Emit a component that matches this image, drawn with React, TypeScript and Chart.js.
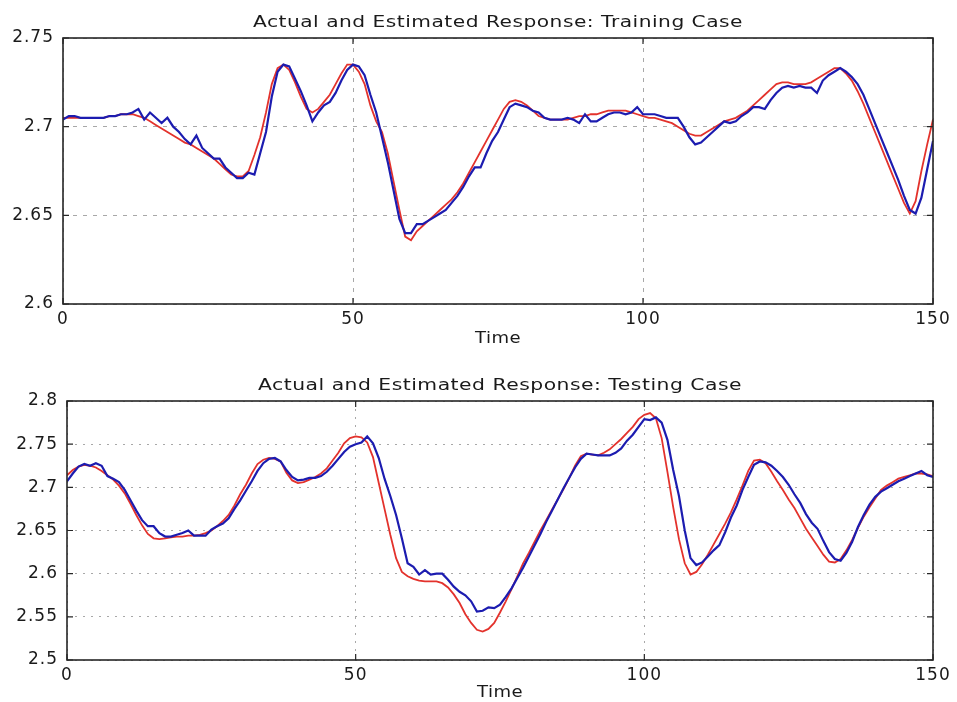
import React, { useEffect, useRef } from "react";
import { Chart, registerables } from "chart.js";

Chart.register(...registerables);

// Time samples 0..150
const time: number[] = Array.from({ length: 151 }, (_, i) => i);

// Training case
const trainActual: number[] = [
  2.704, 2.706, 2.706, 2.705, 2.705, 2.705, 2.705, 2.705, 2.706, 2.706,
  2.707, 2.707, 2.708, 2.710, 2.704, 2.708, 2.705, 2.702, 2.705, 2.700,
  2.697, 2.693, 2.690, 2.695, 2.688, 2.685, 2.682, 2.682, 2.677, 2.674,
  2.671, 2.671, 2.674, 2.673, 2.685, 2.697, 2.717, 2.731, 2.735, 2.734,
  2.727, 2.720, 2.712, 2.703, 2.708, 2.712, 2.714, 2.719, 2.726, 2.732,
  2.735, 2.734, 2.729, 2.718, 2.708, 2.694, 2.680, 2.664, 2.648, 2.640,
  2.640, 2.645, 2.645, 2.647, 2.649, 2.651, 2.653, 2.657, 2.661, 2.666,
  2.672, 2.677, 2.677, 2.685, 2.692, 2.697, 2.704, 2.711, 2.713, 2.712,
  2.711, 2.709, 2.708, 2.705, 2.704, 2.704, 2.704, 2.705, 2.704, 2.702,
  2.707, 2.703, 2.703, 2.705, 2.707, 2.708, 2.708, 2.707, 2.708, 2.711,
  2.707, 2.707, 2.707, 2.706, 2.705, 2.705, 2.705, 2.700, 2.694, 2.690,
  2.691, 2.694, 2.697, 2.700, 2.703, 2.702, 2.703, 2.706, 2.708, 2.711,
  2.711, 2.710, 2.715, 2.719, 2.722, 2.723, 2.722, 2.723, 2.722, 2.722,
  2.719, 2.726, 2.729, 2.731, 2.733, 2.731, 2.728, 2.724, 2.718, 2.710,
  2.702, 2.694, 2.686, 2.678, 2.670, 2.661, 2.653, 2.651, 2.660, 2.676,
  2.692,
];
const trainEstimated: number[] = [
  2.705, 2.705, 2.705, 2.705, 2.705, 2.705, 2.705, 2.705, 2.706, 2.706,
  2.707, 2.707, 2.707, 2.706, 2.705, 2.703, 2.701, 2.699, 2.697, 2.695,
  2.693, 2.691, 2.690, 2.688, 2.686, 2.684, 2.682, 2.679, 2.676, 2.673,
  2.672, 2.672, 2.675, 2.684, 2.694, 2.708, 2.724, 2.733, 2.735, 2.732,
  2.725, 2.717, 2.710, 2.708, 2.710, 2.714, 2.718, 2.724, 2.730, 2.735,
  2.735, 2.731, 2.724, 2.712, 2.703, 2.697, 2.685, 2.669, 2.653, 2.638,
  2.636, 2.641, 2.644, 2.647, 2.650, 2.653, 2.656, 2.659, 2.663, 2.668,
  2.674, 2.680, 2.686, 2.692, 2.698, 2.704, 2.710, 2.714, 2.715, 2.714,
  2.712, 2.709, 2.706, 2.705, 2.704, 2.704, 2.704, 2.704, 2.705, 2.706,
  2.706, 2.707, 2.707, 2.708, 2.709, 2.709, 2.709, 2.709, 2.708, 2.707,
  2.706, 2.705, 2.705, 2.704, 2.703, 2.702, 2.700, 2.698, 2.696, 2.695,
  2.695, 2.697, 2.699, 2.701, 2.703, 2.704, 2.705, 2.707, 2.709, 2.712,
  2.715, 2.718, 2.721, 2.724, 2.725, 2.725, 2.724, 2.724, 2.724, 2.725,
  2.727, 2.729, 2.731, 2.733, 2.733, 2.730, 2.726, 2.720, 2.713, 2.705,
  2.697, 2.689, 2.681, 2.673, 2.665, 2.657, 2.651, 2.658, 2.675, 2.690,
  2.704,
];

// Testing case
const testActual: number[] = [
  2.707, 2.716, 2.724, 2.727, 2.725, 2.728, 2.725, 2.713, 2.710, 2.706,
  2.697, 2.685, 2.673, 2.662, 2.655, 2.655, 2.647, 2.643, 2.643, 2.645,
  2.647, 2.650, 2.644, 2.644, 2.644, 2.651, 2.655, 2.658, 2.664, 2.675,
  2.685, 2.696, 2.707, 2.719, 2.728, 2.733, 2.734, 2.730, 2.720, 2.712,
  2.708, 2.709, 2.711, 2.711, 2.713, 2.718, 2.725, 2.733, 2.741, 2.747,
  2.750, 2.752, 2.759, 2.751, 2.734, 2.710, 2.690, 2.668, 2.641, 2.612,
  2.608, 2.599, 2.604, 2.599, 2.600, 2.600, 2.593, 2.585, 2.579, 2.575,
  2.568, 2.556, 2.557, 2.561, 2.560, 2.564, 2.573, 2.583, 2.595, 2.607,
  2.620, 2.633, 2.646, 2.660, 2.673, 2.686, 2.699, 2.711, 2.723, 2.733,
  2.739, 2.738, 2.737, 2.737, 2.737, 2.740, 2.745, 2.754, 2.761, 2.770,
  2.779, 2.778, 2.781, 2.775, 2.755, 2.720, 2.690, 2.650, 2.618, 2.610,
  2.613, 2.620, 2.627, 2.633, 2.648, 2.665, 2.679, 2.697, 2.712, 2.726,
  2.730, 2.729, 2.725, 2.719, 2.712, 2.703, 2.692, 2.682, 2.669, 2.659,
  2.652, 2.638, 2.625, 2.617, 2.615, 2.624, 2.637, 2.654, 2.668, 2.680,
  2.689, 2.695, 2.699, 2.703, 2.707, 2.710, 2.713, 2.716, 2.719, 2.714,
  2.712,
];
const testEstimated: number[] = [
  2.714, 2.720, 2.724, 2.726, 2.725, 2.723, 2.719, 2.714, 2.709, 2.702,
  2.693, 2.681, 2.668, 2.656, 2.646, 2.641, 2.640, 2.641, 2.642, 2.643,
  2.643, 2.644, 2.644, 2.645, 2.647, 2.650, 2.655, 2.661, 2.668, 2.679,
  2.692, 2.703, 2.716, 2.727, 2.732, 2.734, 2.733, 2.730, 2.717, 2.708,
  2.705, 2.706, 2.709, 2.712, 2.716, 2.722, 2.731, 2.740, 2.751, 2.757,
  2.759, 2.758, 2.752, 2.735, 2.705, 2.675, 2.645, 2.618, 2.602, 2.597,
  2.594, 2.592, 2.591, 2.591, 2.591, 2.589, 2.584, 2.576, 2.566, 2.553,
  2.543, 2.535, 2.533, 2.536, 2.543, 2.555, 2.568, 2.582, 2.597, 2.612,
  2.624, 2.637, 2.650, 2.662, 2.674, 2.686, 2.698, 2.711, 2.725, 2.736,
  2.739, 2.738, 2.737, 2.740, 2.744, 2.750, 2.756, 2.763, 2.770, 2.779,
  2.784, 2.786, 2.780, 2.757, 2.718, 2.677, 2.640, 2.612, 2.599, 2.602,
  2.611, 2.622, 2.634, 2.646, 2.658, 2.671, 2.686, 2.702, 2.719, 2.731,
  2.732, 2.728, 2.718, 2.707, 2.697, 2.686, 2.676, 2.664, 2.652, 2.642,
  2.632, 2.622, 2.614, 2.613, 2.617, 2.627, 2.639, 2.653, 2.666, 2.677,
  2.687, 2.697, 2.702, 2.706, 2.710, 2.712, 2.714, 2.716, 2.716, 2.715,
  2.713,
];

const xTicks = [0, 50, 100, 150];
const trainYTicks = [2.6, 2.65, 2.7, 2.75];
const testYTicks = [2.5, 2.55, 2.6, 2.65, 2.7, 2.75, 2.8];

const BLUE = "#1c1cb0";
const RED = "#e3322c";
const TEXT = "#1a1a1a";

type Spec = {
  title: string;
  titleBaseline: number;
  titleWidth: number;
  labelBaseline: number;
  actual: number[];
  estimated: number[];
  yTicks: number[];
  height: number;
  padTop: number;
  yWidth: number;
  xHeight: number;
  dash: number[];
};

// Draws centred text stretched horizontally to a target width (the reference text is wide)
function drawStretched(ctx: CanvasRenderingContext2D, text: string, cx: number, y: number, target: number) {
  (ctx as any).letterSpacing = "0.4px";
  const w0 = ctx.measureText(text).width;
  const k = target / w0;
  ctx.save();
  ctx.translate(cx, y);
  ctx.scale(k, 1);
  ctx.textAlign = "center";
  ctx.fillText(text, 0, 0);
  ctx.restore();
  (ctx as any).letterSpacing = "0px";
}

function makeFramePlugin(spec: Spec) {
  return {
    id: "frame",
    beforeDraw(chart: any) {
      const ctx = chart.ctx;
      ctx.save();
      ctx.fillStyle = "#ffffff";
      ctx.fillRect(0, 0, chart.width, chart.height);
      ctx.restore();
      (ctx as any).letterSpacing = "1px";
    },
    afterDraw(chart: any) {
      const { ctx, chartArea: a, scales } = chart;
      ctx.save();
      ctx.strokeStyle = "#262626";
      ctx.lineWidth = 1.6;
      ctx.strokeRect(a.left, a.top, a.right - a.left, a.bottom - a.top);
      ctx.lineWidth = 1.2;
      ctx.beginPath();
      for (const t of scales.x.ticks) {
        const px = scales.x.getPixelForValue(t.value);
        ctx.moveTo(px, a.bottom);
        ctx.lineTo(px, a.bottom - 6);
        ctx.moveTo(px, a.top);
        ctx.lineTo(px, a.top + 6);
      }
      for (const t of scales.y.ticks) {
        const py = scales.y.getPixelForValue(t.value);
        ctx.moveTo(a.left, py);
        ctx.lineTo(a.left + 6, py);
        ctx.moveTo(a.right, py);
        ctx.lineTo(a.right - 6, py);
      }
      ctx.stroke();
      ctx.fillStyle = TEXT;
      ctx.textBaseline = "alphabetic";
      const cx = (a.left + a.right) / 2;
      ctx.font = '16px "DejaVu Sans"';
      drawStretched(ctx, spec.title, cx, spec.titleBaseline, spec.titleWidth);
      ctx.font = '16px "DejaVu Sans"';
      drawStretched(ctx, "Time", cx, spec.labelBaseline, 46);
      ctx.restore();
    },
  };
}

function ResponseChart({ spec, top }: { spec: Spec; top: number }) {
  const ref = useRef<HTMLCanvasElement | null>(null);
  useEffect(() => {
    if (!ref.current) return;
    const chart = new Chart(ref.current, {
      type: "line",
      data: {
        datasets: [
          {
            label: "Actual",
            data: time.map((t, i) => ({ x: t, y: spec.actual[i] })),
            borderColor: BLUE,
            borderWidth: 2.2,
            pointRadius: 0,
            tension: 0,
            order: 0,
          },
          {
            label: "Estimated",
            data: time.map((t, i) => ({ x: t, y: spec.estimated[i] })),
            borderColor: RED,
            borderWidth: 1.8,
            pointRadius: 0,
            tension: 0,
            order: 1,
          },
        ],
      },
      options: {
        animation: false,
        responsive: false,
        layout: { padding: { top: spec.padTop, right: 24, left: 0, bottom: 0 } },
        plugins: { legend: { display: false }, tooltip: { enabled: false }, title: { display: false } },
        scales: {
          x: {
            type: "linear",
            min: 0,
            max: 150,
            afterBuildTicks: (s: any) => {
              s.ticks = xTicks.map((v) => ({ value: v }));
            },
            ticks: {
              padding: 5,
              color: TEXT,
              font: { family: "DejaVu Sans", size: 17 },
              maxRotation: 0,
              callback: (v: any) => String(v),
            },
            grid: { color: "#a8a8a8", drawTicks: false, lineWidth: 1 },
            border: { display: false, dash: spec.dash },
            afterFit: (s: any) => {
              s.height = spec.xHeight;
            },
          },
          y: {
            type: "linear",
            min: spec.yTicks[0],
            max: spec.yTicks[spec.yTicks.length - 1],
            afterBuildTicks: (s: any) => {
              s.ticks = spec.yTicks.map((v) => ({ value: v }));
            },
            ticks: {
              padding: 9,
              color: TEXT,
              font: { family: "DejaVu Sans", size: 17 },
              callback: (v: any) => String(Number(Number(v).toFixed(2))),
            },
            grid: { color: "#a8a8a8", drawTicks: false, lineWidth: 1 },
            border: { display: false, dash: spec.dash },
            afterFit: (s: any) => {
              s.width = spec.yWidth;
            },
          },
        },
      },
      plugins: [makeFramePlugin(spec)],
    } as any);
    return () => chart.destroy();
  }, [spec]);
  return (
    <canvas
      ref={ref}
      width={957}
      height={spec.height}
      style={{ position: "absolute", left: 0, top, width: 957, height: spec.height }}
    />
  );
}

const trainSpec: Spec = {
  title: "Actual and Estimated Response: Training Case",
  titleBaseline: 27,
  titleWidth: 490,
  labelBaseline: 343,
  actual: trainActual,
  estimated: trainEstimated,
  yTicks: trainYTicks,
  height: 350,
  padTop: 38,
  yWidth: 63,
  xHeight: 46,
  dash: [4, 6],
};

const testSpec: Spec = {
  title: "Actual and Estimated Response: Testing Case",
  titleBaseline: 40,
  titleWidth: 484,
  labelBaseline: 347,
  actual: testActual,
  estimated: testEstimated,
  yTicks: testYTicks,
  height: 352,
  padTop: 51,
  yWidth: 67,
  xHeight: 42,
  dash: [2, 6],
};

export default function App() {
  return (
    <div style={{ position: "fixed", left: 0, top: 0, width: 957, height: 702, background: "#fff" }}>
      <ResponseChart spec={trainSpec} top={0} />
      <ResponseChart spec={testSpec} top={350} />
    </div>
  );
}
